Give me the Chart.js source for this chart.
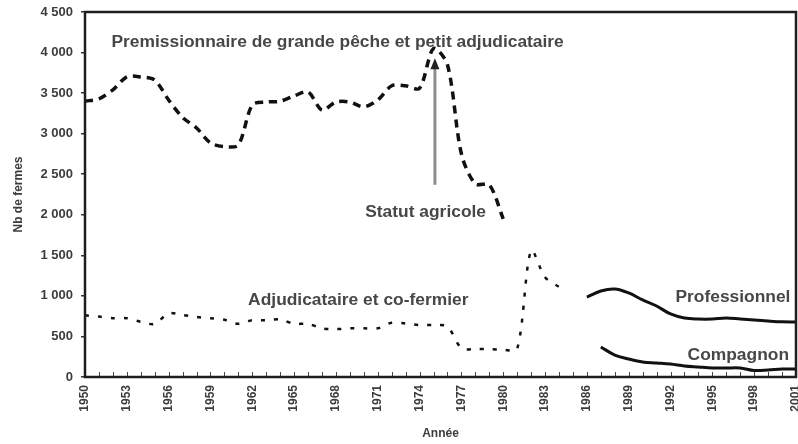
<!DOCTYPE html>
<html lang="fr">
<head>
<meta charset="utf-8">
<title>Nombre de fermes par statut</title>
<script src="https://cdn.jsdelivr.net/npm/chart.js@4.4.1/dist/chart.umd.min.js"></script>
<style>
  html, body { margin: 0; padding: 0; background: #fff; }
  canvas { display: block; }
</style>
</head>
<body>
<canvas id="chart" width="798" height="444"></canvas>
<script>
/* ---- data ---- */
const yearsPermission = [1950, 1951, 1952, 1953, 1954, 1955, 1956, 1957, 1958, 1959,
  1960, 1961, 1962, 1963, 1964, 1965, 1966, 1967, 1968, 1969,
  1970, 1971, 1972, 1973, 1974, 1975, 1976, 1977, 1978, 1979, 1980];
const permissionnaire = [3400, 3430, 3540, 3700, 3700, 3660, 3415, 3200, 3070, 2885,
  2840, 2860, 3355, 3390, 3400, 3465, 3515, 3290, 3390, 3390,
  3330, 3415, 3590, 3590, 3560, 4050, 3850, 2750, 2380, 2370, 1950];

const yearsAdjudicataire = [1950, 1951, 1952, 1953, 1954, 1955, 1956, 1957, 1958, 1959,
  1960, 1961, 1962, 1963, 1964, 1965, 1966, 1967, 1968, 1969,
  1970, 1971, 1972, 1973, 1974, 1975, 1976, 1977, 1978, 1979,
  1980, 1981, 1982, 1983, 1984];
const adjudicataire = [760, 745, 725, 725, 680, 655, 785, 765, 740, 725,
  705, 655, 700, 700, 710, 655, 655, 600, 590, 600,
  600, 600, 670, 660, 640, 640, 620, 355, 345, 345,
  335, 345, 1560, 1230, 1110];

const yearsProfessionnel = [1986, 1987, 1988, 1989, 1990, 1991, 1992, 1993,
  1994, 1995, 1996, 1997, 1998, 1999, 2000, 2001];
const professionnel = [986, 1060, 1085, 1036, 950, 875, 777, 727,
  715, 715, 727, 715, 703, 690, 680, 678];

const yearsCompagnon = [1987, 1988, 1989, 1990, 1991, 1992, 1993,
  1994, 1995, 1996, 1997, 1998, 1999, 2000, 2001];
const compagnon = [370, 271, 222, 185, 173, 160, 136,
  123, 111, 111, 111, 80, 86, 99, 99];

const xLabelYears = [1950, 1953, 1956, 1959, 1962, 1965, 1968, 1971, 1974,
  1977, 1980, 1983, 1986, 1989, 1992, 1995, 1998, 2001];

/* ---- text placed in the plot (data coordinates) ---- */
const notes = [
  { text: 'Premissionnaire de grande pêche et petit adjudicataire', x: 1951.9, y: 4130, align: 'left' },
  { text: 'Statut agricole', x: 1970.1, y: 2035, align: 'left' },
  { text: 'Adjudicataire et co-fermier', x: 1961.7, y: 950, align: 'left' },
  { text: 'Professionnel', x: 2000.6, y: 986, align: 'right' },
  { text: 'Compagnon', x: 2000.5, y: 271, align: 'right' },
];
const arrow = { x: 1975.1, from: 2370, to: 3930 };

const FONT = '"Liberation Sans", Arial, sans-serif';
const INK = '#3c3c3c';

function points(xs, ys) { return xs.map((x, i) => ({ x, y: ys[i] })); }

function thousands(v) {
  if (v < 1000) return String(v);
  return Math.floor(v / 1000) + ' ' + String(v % 1000).padStart(3, '0');
}

const decorations = {
  id: 'decorations',
  beforeDatasetsDraw(chart) {
    const { ctx, scales: { x, y } } = chart;
    ctx.save();
    // arrow pointing to the change of status
    const ax = x.getPixelForValue(arrow.x);
    const ay0 = y.getPixelForValue(arrow.from), ay1 = y.getPixelForValue(arrow.to);
    ctx.strokeStyle = '#8e8e8e'; ctx.lineWidth = 3;
    ctx.beginPath(); ctx.moveTo(ax, ay0); ctx.lineTo(ax, ay1 + 8); ctx.stroke();
    ctx.fillStyle = '#222';
    ctx.beginPath(); ctx.moveTo(ax, ay1); ctx.lineTo(ax - 4.5, ay1 + 11); ctx.lineTo(ax + 4.5, ay1 + 11); ctx.closePath(); ctx.fill();
    // series names
    ctx.font = 'bold 17.4px ' + FONT; ctx.fillStyle = '#474747'; ctx.textBaseline = 'middle';
    notes.forEach(n => {
      ctx.textAlign = n.align;
      ctx.fillText(n.text, x.getPixelForValue(n.x), y.getPixelForValue(n.y));
    });
    ctx.restore();
  },
  afterDatasetsDraw(chart) {
    const { ctx, chartArea: a, scales: { x } } = chart;
    ctx.save();
    ctx.strokeStyle = '#444'; ctx.lineWidth = 1;
    x.ticks.forEach(t => {
      const px = Math.round(x.getPixelForValue(t.value)) + 0.5;
      ctx.beginPath(); ctx.moveTo(px, a.bottom); ctx.lineTo(px, a.bottom - 5); ctx.stroke();
    });
    ctx.strokeStyle = '#1e1e1e'; ctx.lineWidth = 2.5;
    ctx.strokeRect(a.left, a.top, a.right - a.left, a.bottom - a.top);
    ctx.restore();
  }
};

new Chart(document.getElementById('chart').getContext('2d'), {
  type: 'line',
  data: {
    datasets: [
      { label: 'Permissionnaire', data: points(yearsPermission, permissionnaire), borderColor: '#111', borderWidth: 3.5, borderDash: [8, 6], tension: 0.3 },
      { label: 'Adjudicataire', data: points(yearsAdjudicataire, adjudicataire), borderColor: '#111', borderWidth: 2.5, borderDash: [4, 9], tension: 0.3 },
      { label: 'Professionnel', data: points(yearsProfessionnel, professionnel), borderColor: '#111', borderWidth: 3, tension: 0.35 },
      { label: 'Compagnon', data: points(yearsCompagnon, compagnon), borderColor: '#111', borderWidth: 3, tension: 0.35 },
    ],
  },
  options: {
    responsive: false, animation: false, devicePixelRatio: 1,
    layout: { padding: { top: 12, right: 2, left: 0, bottom: 0 } },
    elements: { point: { radius: 0 } },
    plugins: { legend: { display: false }, tooltip: { enabled: false } },
    scales: {
      x: {
        type: 'linear', min: 1950, max: 2001,
        afterFit(s) { s.height = 67; s.paddingLeft = 0; s.paddingRight = 0; },
        grid: { display: false, drawTicks: false }, border: { display: false },
        ticks: {
          stepSize: 1, maxTicksLimit: 60, autoSkip: false, minRotation: 90, maxRotation: 90, padding: 8,
          color: INK, font: { family: FONT, size: 12, weight: 'bold' },
          callback: v => xLabelYears.includes(v) ? String(v) : '',
        },
        title: { display: true, text: 'Année', color: INK, font: { family: FONT, size: 12, weight: 'bold' }, padding: { top: 0, bottom: 3 } },
      },
      y: {
        min: 0, max: 4500,
        afterFit(s) { s.width = 85; s.paddingTop = 0; s.paddingBottom = 0; },
        grid: { drawOnChartArea: false, drawTicks: true, tickLength: 4, color: '#333', lineWidth: 1.5 },
        border: { display: false },
        ticks: { stepSize: 500, padding: 8, color: INK, font: { family: FONT, size: 13, weight: 'bold' }, callback: v => thousands(v) },
        title: { display: true, text: 'Nb de fermes', color: INK, font: { family: FONT, size: 12, weight: 'bold' }, padding: { top: 11, bottom: 0 } },
      },
    },
  },
  plugins: [decorations],
});
</script>
</body>
</html>
